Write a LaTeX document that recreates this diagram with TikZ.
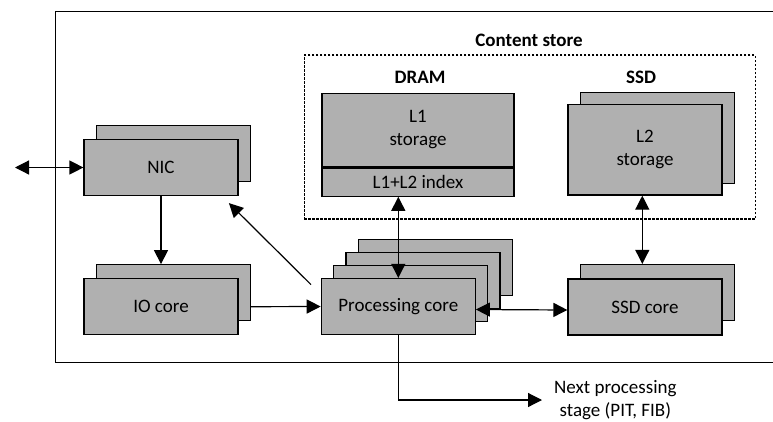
\documentclass[tikz,border=0pt]{standalone}
\usepackage{fontspec}
\setmainfont{Carlito}
\usetikzlibrary{arrows.meta}
\definecolor{boxgray}{RGB}{176,176,176}
\tikzset{
  unit/.style={draw=black, fill=boxgray, line width=1.2pt, minimum width=154pt,
    minimum height=56pt, inner sep=0pt, align=center,
    font=\fontsize{19}{23}\selectfont},
  label/.style={font=\bfseries\fontsize{19}{23}\selectfont, anchor=base, inner sep=0pt},
  link/.style={line width=1.2pt, -{Triangle[length=14pt,width=14pt]}},
  dlink/.style={line width=1.2pt, {Triangle[length=14pt,width=14pt]}-{Triangle[length=14pt,width=14pt]}},
  storebox/.style={draw=black, line width=1.1pt, dash pattern=on 2.5pt off 1.5pt,
    inner sep=0pt}
}
\begin{document}
\begin{tikzpicture}[x=1pt,y=-1pt]
\useasboundingbox (0,0) rectangle (773,421);

% router frame (open to the right)
\draw[line width=1.4pt] (776,11.5) -- (55.5,11.5) -- (55.5,362.5) -- (776,362.5);

% content store
\node[storebox, minimum width=451pt, minimum height=164pt] (store) at (529.8,137) {};
\node[label] (storelbl) at (529,46.7) {Content store};
\node[label] (dramlbl) at (420,83.3) {DRAM};
\node[label] (ssdlbl) at (641,83.3) {SSD};

% DRAM: L1 storage with index
\node[unit, minimum width=192pt, minimum height=73.4pt] (l1) at (418,130) {L1\\storage};
\node[unit, minimum width=192pt, minimum height=28.3pt, anchor=north] (idx) at (l1.south) {L1+L2 index};

% SSD: L2 storage
\node[unit, minimum height=90.7pt] (l2b) at (657.3,138.1) {};
\node[unit, minimum height=90.7pt] (l2) at (645,149.7) {L2\\storage};

% NIC
\node[unit] (nicb) at (173.3,153.7) {};
\node[unit] (nic) at (161,167.5) {NIC};

% IO core
\node[unit] (iob) at (173.3,292.7) {};
\node[unit] (io) at (161,306.7) {IO core};

% processing cores
\node[unit] (pcd) at (435.2,267.5) {};
\node[unit] (pcc) at (422.9,280.5) {};
\node[unit] (pcb) at (410.6,293.5) {};
\node[unit] (pc) at (398.3,306.5) {Processing core};

% SSD core
\node[unit] (scb) at (657.3,292.5) {};
\node[unit] (sc) at (645,307) {SSD core};

% next stage
\node[inner xsep=12pt, inner ysep=0pt, anchor=west, align=center,
  font=\fontsize{19}{23.5}\selectfont] (next) at (542,400) {Next processing\\stage (PIT, FIB)};
\coordinate (ext) at (15,167.5);

% connectors
\draw[dlink] (ext) -- (nic.west);
\draw[link] (nic.south) -- (nic.south |- iob.north);
\draw[link] (io.east -| iob.east) -- (pc.west);
\draw[link] ([xshift=-9.7pt,yshift=-6.7pt]pc.north west) -- ([xshift=-9.7pt,yshift=-7pt]nic.south east);
\draw[dlink] (pc.north |- idx.south) -- (pc.north);
\draw[dlink] ([xshift=-2.7pt]l2.south) -- ([xshift=-2.7pt]l2.south |- scb.north);
\draw[dlink] ([yshift=-3pt]pc.east) -- ([yshift=-3pt]sc.west);
\draw[link] (pc.south) |- (next.west);
\end{tikzpicture}
\end{document}
